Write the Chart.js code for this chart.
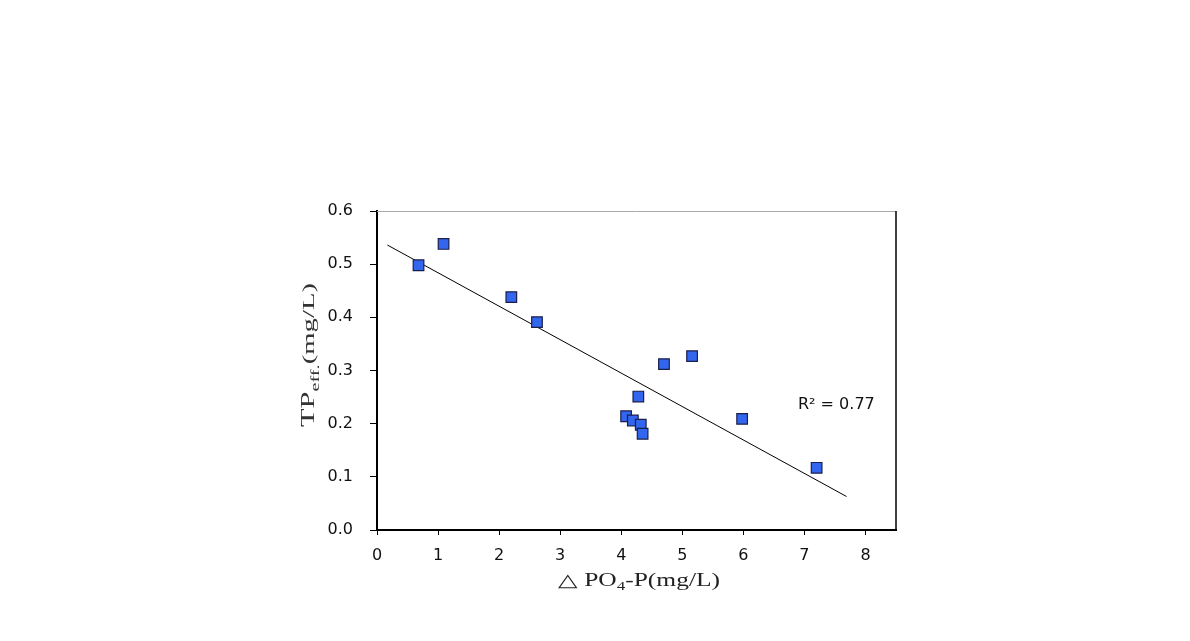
<!DOCTYPE html>
<html>
<head>
  <title>TP effluent vs PO4-P</title>
  <script src="https://cdn.jsdelivr.net/npm/chart.js"></script>
  <style>
    html, body { margin: 0; padding: 0; background: #fff; }
    #wrap { width: 1190px; height: 641px; }
  </style>
</head>
<body>
  <div id="wrap"><canvas id="scatterChart" width="1190" height="641"></canvas></div>

  <script>
    // values
    const dPO4 = [0.68, 1.09, 2.20, 2.62, 4.70, 5.16, 4.28, 4.08, 4.19, 4.32, 4.35, 5.98, 7.20];
    const tpEff = [0.498, 0.538, 0.438, 0.391, 0.312, 0.327, 0.251, 0.214, 0.206, 0.198, 0.181, 0.209, 0.117];
    const trendX = [0.17, 7.69];
    const trendY = [0.536, 0.063];
    const xTicks = [0, 1, 2, 3, 4, 5, 6, 7, 8];
    const yTicks = [0.0, 0.1, 0.2, 0.3, 0.4, 0.5, 0.6];
    const r2Label = 'R² = 0.77';

    const points = dPO4.map((x, i) => ({ x: x, y: tpEff[i] }));
    const trend = trendX.map((x, i) => ({ x: x, y: trendY[i] }));

    // draws text parts (with subscripts) stretched to a given width
    function drawParts(ctx, parts, width) {
      let total = 0;
      parts.forEach(p => {
        ctx.font = p[1] + 'px "Liberation Serif"';
        total += ctx.measureText(p[0]).width;
      });
      ctx.scale(width / total, 1);
      let x = 0;
      parts.forEach(p => {
        ctx.font = p[1] + 'px "Liberation Serif"';
        ctx.fillText(p[0], x, p[2]);
        x += ctx.measureText(p[0]).width;
      });
    }

    // frame, titles and R² note
    const decorations = {
      id: 'decorations',
      afterDraw(chart) {
        const ctx = chart.ctx;
        const a = chart.chartArea;
        ctx.save();
        ctx.strokeStyle = '#aaaaaa';
        ctx.lineWidth = 1;
        ctx.beginPath();
        ctx.moveTo(a.left, a.top + 0.5);
        ctx.lineTo(a.right, a.top + 0.5);
        ctx.stroke();
        ctx.strokeStyle = '#000';
        ctx.lineWidth = 1.5;
        ctx.beginPath();
        ctx.moveTo(a.right, a.top);
        ctx.lineTo(a.right, a.bottom);
        ctx.stroke();

        // R²
        ctx.fillStyle = '#111';
        ctx.font = '16px "DejaVu Sans"';
        ctx.textBaseline = 'middle';
        ctx.textAlign = 'left';
        ctx.fillText(r2Label, 798, 405);
        ctx.restore();

        // x title: △ PO4-P(mg/L)
        ctx.save();
        ctx.fillStyle = '#222';
        ctx.textBaseline = 'alphabetic';
        ctx.translate(558, 586);
        drawParts(ctx, [['△ PO', 18, 0], ['4', 12, 4], ['-P(mg/L)', 18, 0]], 162);
        ctx.restore();

        // y title: TPeff.(mg/L)
        ctx.save();
        ctx.fillStyle = '#333';
        ctx.textBaseline = 'alphabetic';
        ctx.translate(314, 427);
        ctx.rotate(-Math.PI / 2);
        drawParts(ctx, [['TP', 18, 0], ['eff.', 12, 5], ['(mg/L)', 17, 0]], 144);
        ctx.restore();
      }
    };

    const ctx = document.getElementById('scatterChart').getContext('2d');
    new Chart(ctx, {
      type: 'scatter',
      data: {
        datasets: [
          {
            label: 'TP',
            data: points,
            pointStyle: 'rect',
            pointRadius: 7.5,
            pointHoverRadius: 7.5,
            backgroundColor: '#3366ee',
            borderColor: '#1a1f4a',
            borderWidth: 1.2
          },
          {
            label: 'trend',
            type: 'line',
            data: trend,
            borderColor: '#000',
            borderWidth: 1,
            pointRadius: 0,
            fill: false
          }
        ]
      },
      options: {
        responsive: false,
        animation: false,
        layout: { padding: { left: 0, top: 211, right: 294, bottom: 0 } },
        plugins: {
          legend: { display: false },
          tooltip: { enabled: false }
        },
        scales: {
          x: {
            type: 'linear',
            min: 0,
            max: 8.5,
            afterFit(scale) { scale.height = 111; },
            afterBuildTicks(scale) { scale.ticks = xTicks.map(v => ({ value: v })); },
            grid: { drawOnChartArea: false, drawTicks: true, tickLength: 5, color: '#000' },
            border: { color: '#000', width: 2 },
            ticks: {
              color: '#111',
              padding: 11,
              font: { family: 'DejaVu Sans', size: 16 },
              callback: v => String(v)
            }
          },
          y: {
            min: 0,
            max: 0.6,
            afterFit(scale) { scale.width = 377; },
            afterBuildTicks(scale) { scale.ticks = yTicks.map(v => ({ value: v })); },
            grid: { drawOnChartArea: false, drawTicks: true, tickLength: 7, color: '#000' },
            border: { color: '#000', width: 2 },
            ticks: {
              color: '#111',
              padding: 17,
              font: { family: 'DejaVu Sans', size: 16 },
              callback: v => v.toFixed(1)
            }
          }
        }
      },
      plugins: [decorations]
    });
  </script>
</body>
</html>
